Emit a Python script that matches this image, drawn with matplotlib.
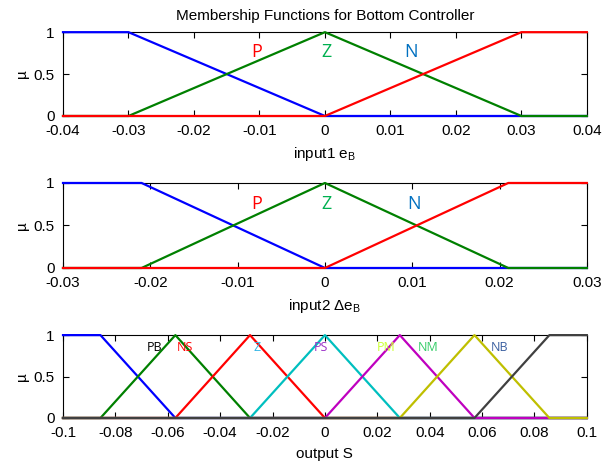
import matplotlib
matplotlib.use("Agg")
import matplotlib.pyplot as plt
import numpy as np

plt.rcParams['font.family'] = ['Liberation Sans', 'DejaVu Sans']
plt.rcParams['font.size'] = 11

# ---- input 1: error e_B ----
in1_xlim = [-0.04, 0.04]
in1_ticks = [-0.04, -0.03, -0.02, -0.01, 0, 0.01, 0.02, 0.03, 0.04]
in1_names = ["P", "Z", "N"]
in1_x = [[-0.04, -0.03, 0.0, 0.04],
         [-0.04, -0.03, 0.0, 0.03, 0.04],
         [-0.04, 0.0, 0.03, 0.04]]
in1_mu = [[1, 1, 0, 0],
          [0, 0, 1, 0, 0],
          [0, 0, 1, 1]]
in1_label_x = [-0.0105, 0.0003, 0.0132]

# ---- input 2: change of error Δe_B ----
in2_xlim = [-0.03, 0.03]
in2_ticks = [-0.03, -0.02, -0.01, 0, 0.01, 0.02, 0.03]
in2_x = [[-0.03, -0.021, 0.0, 0.03],
         [-0.03, -0.021, 0.0, 0.021, 0.03],
         [-0.03, 0.0, 0.021, 0.03]]
in2_mu = [[1, 1, 0, 0],
          [0, 0, 1, 0, 0],
          [0, 0, 1, 1]]
in2_label_x = [-0.0078, 0.0002, 0.0102]

# ---- output S ----
out_xlim = [-0.1, 0.1]
out_ticks = [-0.1, -0.08, -0.06, -0.04, -0.02, 0, 0.02, 0.04, 0.06, 0.08, 0.1]
out_names = ["PB", "NS", "Z", "PS", "PM", "NM", "NB"]
out_x = [[-0.1, -0.0857, -0.0571, 0.1],
         [-0.1, -0.0857, -0.0571, -0.0286, 0.1],
         [-0.1, -0.0571, -0.0286, 0.0, 0.1],
         [-0.1, -0.0286, 0.0, 0.0286, 0.1],
         [-0.1, 0.0, 0.0286, 0.0571, 0.1],
         [-0.1, 0.0286, 0.0571, 0.0857, 0.1],
         [-0.1, 0.0571, 0.0857, 0.1]]
out_mu = [[1, 1, 0, 0],
          [0, 0, 1, 0, 0],
          [0, 0, 1, 0, 0],
          [0, 0, 1, 0, 0],
          [0, 0, 1, 0, 0],
          [0, 0, 1, 0, 0],
          [0, 0, 1, 1]]
out_label_x = [-0.065, -0.0535, -0.026, -0.0015, 0.0235, 0.0395, 0.0665]

in_line_colors = ["#0000ff", "#008000", "#ff0000"]
in_text_colors = ["#ff0000", "#00b050", "#0070c0"]
out_line_colors = ["#0000ff", "#008000", "#ff0000", "#00bfbf",
                   "#bf00bf", "#bfbf00", "#404040"]
out_text_colors = ["#000000", "#ff0000", "#33b5e5", "#9b30c8",
                   "#ccff33", "#33cc66", "#3a5fa0"]

fig = plt.figure(figsize=(6.07, 4.63), dpi=100)

left, width = 0.1038, 0.863
ax1 = fig.add_axes([left, 0.7495, width, 0.181])
ax2 = fig.add_axes([left, 0.4212, width, 0.1836])
ax3 = fig.add_axes([left, 0.0972, width, 0.179])


def style(ax, xlim, ticks, xlabel):
    ax.set_xlim(xlim)
    ax.set_ylim(0, 1)
    ax.set_xticks(ticks)
    ax.set_xticklabels([("%g" % t) for t in ticks])
    ax.set_yticks([0, 0.5, 1])
    ax.set_yticklabels(["0", "0.5", "1"])
    ax.tick_params(direction="in", top=True, right=True, length=4,
                   labelsize=11, width=0.8)
    ax.tick_params(axis="x", pad=6)
    ax.tick_params(axis="y", pad=6)
    ax.set_xlabel(xlabel, fontsize=11, labelpad=5)
    ax.set_ylabel("µ", fontsize=11, labelpad=3)
    for s in ax.spines.values():
        s.set_linewidth(0.8)


for xs, ys, c in zip(in1_x, in1_mu, in_line_colors):
    ax1.plot(xs, ys, color=c, lw=1.6, clip_on=False, zorder=3)
for name, lx, c in zip(in1_names, in1_label_x, in_text_colors):
    ax1.text(lx, 0.76, name, color=c, fontsize=13, ha="center", va="center",
             family=["Open Sans", "DejaVu Sans"])
style(ax1, in1_xlim, in1_ticks, "input1 e$_\\mathregular{B}$")
ax1.set_title("Membership Functions for Bottom Controller", fontsize=11, pad=9)

for xs, ys, c in zip(in2_x, in2_mu, in_line_colors):
    ax2.plot(xs, ys, color=c, lw=1.6, clip_on=False, zorder=3)
for name, lx, c in zip(in1_names, in2_label_x, in_text_colors):
    ax2.text(lx, 0.75, name, color=c, fontsize=13, ha="center", va="center",
             family=["Open Sans", "DejaVu Sans"])
style(ax2, in2_xlim, in2_ticks, "input2 Δe$_\\mathregular{B}$")

for xs, ys, c in zip(out_x, out_mu, out_line_colors):
    ax3.plot(xs, ys, color=c, lw=1.6, clip_on=False, zorder=3)
for name, lx, c in zip(out_names, out_label_x, out_text_colors):
    ax3.text(lx, 0.85, name, color=c, fontsize=9, ha="center", va="center",
             family=["Open Sans", "DejaVu Sans"])
style(ax3, out_xlim, out_ticks, "output S")

fig.savefig("out.png", dpi=100)
